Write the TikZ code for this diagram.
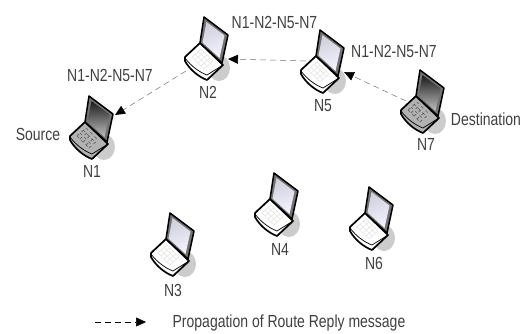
\documentclass[tikz,border=0pt]{standalone}
\usepackage{fontspec}
\setmainfont[FakeStretch=0.8]{Liberation Sans}
\usetikzlibrary{arrows.meta}
\tikzset{
  label/.style={font=\fontsize{17.5}{19}\selectfont,text=black!75,inner sep=0pt},
  reply/.style={draw=black!55,line width=0.5pt,dash pattern=on 6pt off 4pt,-{Triangle[length=10pt,width=9pt,black]}},
  screenlight/.style={left color=blue!25!black!18,right color=blue!5!white,shading angle=20},
  screendark/.style={top color=black!90,bottom color=black!25},
  pics/laptop/.style n args={4}{code={
    % shadow
    \fill[black!20] (12,-12) ellipse (11 and 13);
    % base
    \fill[#2,draw=black,line width=1.7pt,line join=round]
      (-7,-37) -- (16,-15) -- (0,0) .. controls (-8,-3) and (-17,-10) .. (-22,-19) -- (-22,-23) -- cycle;
    \draw[black,line width=0.7pt] (-22,-22) .. controls (-16,-14) and (-8,-8) .. (0,-5) -- (16,-15);
    % keys
    \draw[#3,line width=0.6pt,#4] (-15,-23) -- (-6,-31) (-12,-20) -- (-3,-28) (-9,-17) -- (0,-25) (-6,-14) -- (3,-22) (-3,-11) -- (6,-19)
      (-15,-23) -- (-3,-11) (-12,-26) -- (0,-14) (-9,-29) -- (3,-17) (-6,-31) -- (6,-19);
    % screen
    \fill[black!55,draw=black,line width=1.5pt,line join=round]
      (-3,-63) -- (21,-45) -- (15,-17) -- (-7,-37) -- cycle;
    \shade[#1] (-0.5,-58) -- (17.5,-44.5) -- (12.5,-22) -- (-4.5,-37.5) -- cycle;
    \coordinate (-east) at (21,-21);
    \coordinate (-hinge) at (23,-44);
    \coordinate (-north) at (-17,-32);
    \coordinate (-west) at (-21,-9);
  }},
}
\begin{document}
\begin{tikzpicture}[x=1pt,y=-1pt]
\useasboundingbox (0,0) rectangle (523,333);
\pic (n1) at (92,159) {laptop={screendark}{black!30}{black!65}{dashed}};
\pic (n2) at (207,80) {laptop={screenlight}{white}{black!10}{solid}};
\pic (n3) at (173,276) {laptop={screenlight}{white}{black!10}{solid}};
\pic (n4) at (277,236) {laptop={screenlight}{white}{black!10}{solid}};
\pic (n5) at (323,93) {laptop={screenlight}{white}{black!10}{solid}};
\pic (n6) at (372,250) {laptop={screenlight}{white}{black!10}{solid}};
\pic (n7) at (423,133) {laptop={screendark}{black!30}{black!65}{dashed}};
\draw[reply] (n7-north) -- (n5-east);
\draw[reply] (n5-north) -- (n2-east);
\draw[reply] (n2-west) -- (n1-hinge);
\node[label] (routea) at (110,75) {N1-N2-N5-N7};
\node[label] (routeb) at (274.5,22) {N1-N2-N5-N7};
\node[label] (routec) at (394,51) {N1-N2-N5-N7};
\node[label] (source) at (38,134) {Source};
\node[label] (destination) at (486,119) {Destination};
\node[label] (lab1) at (92,171) {N1};
\node[label] (lab2) at (208,92) {N2};
\node[label] (lab3) at (173,290) {N3};
\node[label] (lab4) at (280,249) {N4};
\node[label] (lab5) at (323,106) {N5};
\node[label] (lab6) at (374,263) {N6};
\node[label] (lab7) at (426,144) {N7};
\coordinate (keya) at (95,322);
\coordinate (keyb) at (146,322);
\draw[reply,draw=black] (keya) -- (keyb);
\node[label] (legend) at (289,323) {Propagation of Route Reply message};
\end{tikzpicture}
\end{document}
